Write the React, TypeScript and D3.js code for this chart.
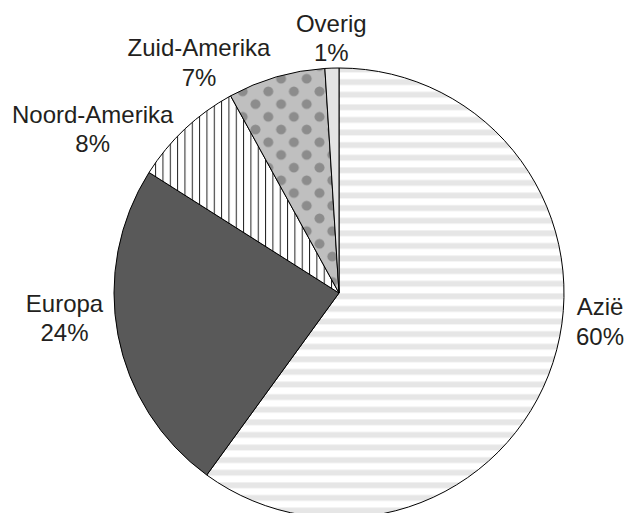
import * as d3 from 'd3'

// continent shares (percent), clockwise from 12 o'clock
const regions = ['Azië', 'Europa', 'Noord-Amerika', 'Zuid-Amerika', 'Overig']
const shares = [60, 24, 8, 7, 1]
const pctLabels = ['60%', '24%', '8%', '7%', '1%']

const W = 625
const H = 513
const cx = 339
const cy = 293
const radius = 225

// fills per slice (patterns defined below)
const fills = ['url(#hstripes)', '#595959', 'url(#vlines)', 'url(#dots)', '#e3e3e3']

// label nudges from the label arc point
const labelNudge: [number, number][] = [
  [18.5, -56.3],
  [-24, -29.1],
  [-71.8, 15.4],
  [-68.9, 7.9],
  [0.3, -6.4],
]

const App = () => {
  const pie = d3.pie<number>().sort(null).value(d => d)
  const arcs = pie(shares)

  const arc = d3.arc<d3.PieArcDatum<number>>().innerRadius(0).outerRadius(radius)
  const labelArc = d3.arc<d3.PieArcDatum<number>>().innerRadius(radius + 30).outerRadius(radius + 30)

  return (
    <svg
      width={W}
      height={H}
      style={{ position: 'absolute', left: 0, top: 0, background: '#fff' }}
      fontFamily="'Liberation Sans', Arial, sans-serif"
    >
      <defs>
        <pattern id="hstripes" patternUnits="userSpaceOnUse" width={20} height={12.6}>
          <rect width={20} height={12.6} fill="#fff" />
          <rect y={0.4} width={20} height={5.8} fill="#e6e6e6" />
        </pattern>
        <pattern id="vlines" patternUnits="userSpaceOnUse" width={7.33} height={20} x={6.7}>
          <rect width={7.33} height={20} fill="#fff" />
          <rect x={0} width={1} height={20} fill="#222" />
        </pattern>
        <pattern id="dots" patternUnits="userSpaceOnUse" width={25.6} height={25.4} x={-0.3} y={-4.75}>
          <rect width={25.6} height={25.4} fill="#bfbfbf" />
          <circle cx={6.4} cy={6.35} r={5} fill="#8c8c8c" />
          <circle cx={19.2} cy={19.05} r={5} fill="#8c8c8c" />
        </pattern>
      </defs>
      <g transform={`translate(${cx},${cy})`}>
        {arcs.map((d, i) => (
          <path key={regions[i]} d={arc(d) || ''} fill={fills[i]} stroke="#000" strokeWidth={1} strokeLinejoin="round" />
        ))}
        {arcs.map((d, i) => {
          const [lx, ly] = labelArc.centroid(d)
          const x = lx + labelNudge[i][0]
          const y = ly + labelNudge[i][1]
          return (
            <text key={'l' + i} x={x} y={y} textAnchor="middle" fontSize={24} fill="#231f20">
              <tspan x={x} y={y}>{regions[i]}</tspan>
              <tspan x={x} dy={29.7}>{pctLabels[i]}</tspan>
            </text>
          )
        })}
      </g>
    </svg>
  )
}

export default App
